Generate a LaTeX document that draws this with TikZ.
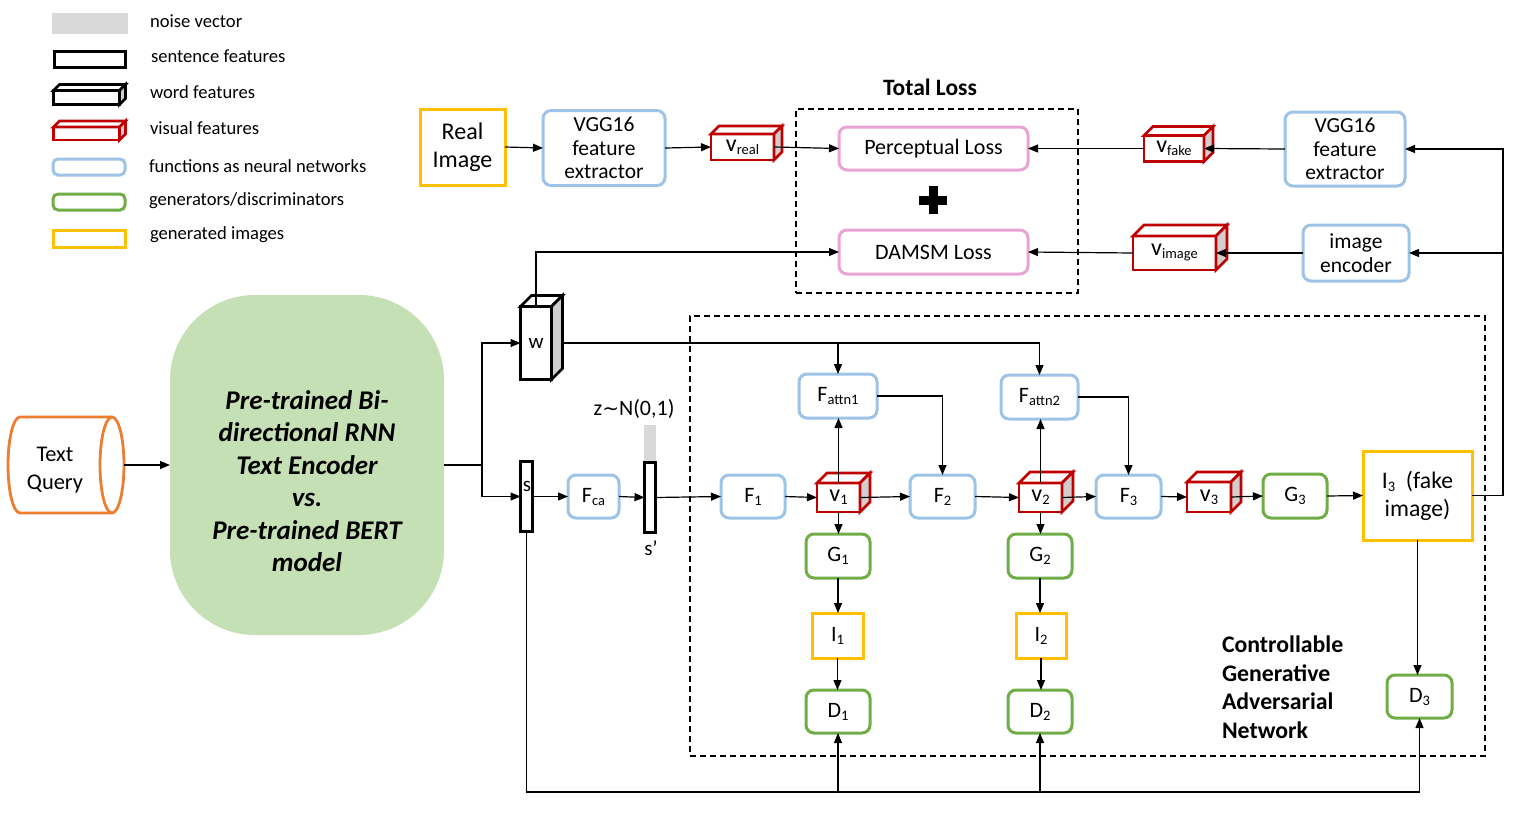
\documentclass[tikz,border=0pt]{standalone}
\usepackage{fontspec}
\setmainfont{Carlito}
\newfontfamily\dejavu{DejaVu Sans}
\usetikzlibrary{arrows.meta,calc}
\definecolor{cOrange}{HTML}{ED7D31}
\definecolor{cYellow}{HTML}{FFC000}
\definecolor{cBlue}{HTML}{9DC3E6}
\definecolor{cGreen}{HTML}{70AD47}
\definecolor{cRed}{HTML}{C00000}
\definecolor{cPink}{HTML}{E9A3D4}
\definecolor{cFill}{HTML}{C5E0B4}
\definecolor{cNoise}{HTML}{D9D9D9}
\definecolor{cSide}{HTML}{D0CECE}
\newcommand\sbs[1]{\raisebox{-3pt}{\fontsize{14.5}{16}\selectfont #1}}
\newcommand\cubeit[3]{%
  \draw[line width=2.6pt,#3,fill=white,line join=miter] (#1.north west) -- ++(#2,-#2) -- ([shift={(#2,-#2)}]#1.north east) -- (#1.north east) -- cycle;
  \draw[line width=2.6pt,#3,fill=cSide,line join=miter] (#1.north east) -- ([shift={(#2,-#2)}]#1.north east) -- ([shift={(#2,-#2)}]#1.south east) -- (#1.south east) -- cycle;
}
\tikzset{
  every node/.style={inner sep=0pt,outer sep=0pt},
  arr/.style={line width=1.2pt,-{Triangle[length=10pt,width=8pt]}},
  ln/.style={line width=1.2pt},
  fbox/.style={draw=cBlue,line width=3pt,rounded corners=8pt,fill=white,align=center},
  gbox/.style={draw=cGreen,line width=3pt,rounded corners=8pt,fill=white,align=center},
  pbox/.style={draw=cPink,line width=3pt,rounded corners=8pt,fill=white,align=center},
  ybox/.style={draw=cYellow,line width=3pt,fill=white,align=center},
  vfront/.style={draw=cRed,line width=2.8pt,fill=white},
  dashbox/.style={draw,line width=1.8pt,dash pattern=on 6pt off 4pt},
  lg/.style={anchor=west,font=\fontsize{18.6}{22}\selectfont},
  f22/.style={font=\fontsize{22}{26}\selectfont},
  vgg/.style={font=\fontsize{21.5}{23.5}\selectfont},
  vf/.style={font=\fontsize{24}{26}\selectfont},
}
\begin{document}
\begin{tikzpicture}[x=1pt,y=-1pt]
\useasboundingbox (0,0) rectangle (1528,822);

% ---------- legend
\node[fill=cNoise,minimum width=76,minimum height=21] (lg1) at (90,23.5) {};
\node[draw,line width=2.8pt,minimum width=71,minimum height=16] (lg2) at (90,59.5) {};
\node[draw,line width=2.6pt,minimum width=66,minimum height=14,fill=white] (lg3) at (86.5,97.5) {};
\cubeit{lg3}{6}{black}
\node[vfront,minimum width=66,minimum height=13] (lg4) at (86.5,133.5) {};
\cubeit{lg4}{6}{cRed}
\node[fbox,rounded corners=5pt,minimum width=72,minimum height=16] (lg5) at (89,167) {};
\node[gbox,rounded corners=5pt,minimum width=72,minimum height=16] (lg6) at (89,202) {};
\node[ybox,minimum width=72,minimum height=17] (lg7) at (89,238.5) {};
\node[lg] (lt1) at (150,21) {noise vector};
\node[lg] (lt2) at (151,56) {sentence features};
\node[lg] (lt3) at (150,92) {word features};
\node[lg] (lt4) at (150,128) {visual features};
\node[lg] (lt5) at (149,166) {functions as neural networks};
\node[lg] (lt6) at (149,201) {generators/discriminators};
\node[lg] (lt7) at (150,235) {generated images};

% ---------- dashed boxes
\node[dashbox,minimum width=282,minimum height=184] (lossbox) at (937,201) {};
\node[dashbox,minimum width=795,minimum height=440] (ganbox) at (1087.5,536) {};
\node[font=\bfseries\fontsize{23.5}{26}\selectfont] (tl) at (930,87) {Total Loss};
\node[font=\bfseries\fontsize{23.8}{28.5}\selectfont,align=left,anchor=west] (cg) at (1222,687) {Controllable\\Generative\\Adversarial\\Network};

% ---------- text query + encoder
\node[minimum width=116,minimum height=96] (tq) at (66,465) {};
\draw[cOrange,line width=2.8pt] (112,417) -- (20,417) arc[start angle=270,end angle=90,x radius=12,y radius=48] -- (112,513);
\draw[cOrange,line width=2.8pt] (112,465) ellipse [x radius=12,y radius=48];
\node[font=\fontsize{22.4}{28}\selectfont,align=center] (tqt) at (55,470) {Text\\Query};
\node[fill=cFill,rounded corners=85pt,minimum width=274,minimum height=340] (enc) at (307,465) {};
\node[align=center,font=\bfseries\itshape\fontsize{27}{32.5}\selectfont] (enctxt) at (307,481)
  {Pre-trained Bi-\\directional RNN\\Text Encoder\\vs.\\Pre-trained BERT\\model};

% ---------- top row
\node[ybox,font=\fontsize{24}{28}\selectfont,minimum width=85,minimum height=76] (real) at (462.5,147) {Real\\Image};
\node[fbox,vgg,minimum width=122,minimum height=75] (vgg1) at (604,148) {VGG16\\feature\\extractor};
\node[vfront,vf,minimum width=63,minimum height=26] (vreal) at (742.5,147) {v\sbs{real}};
\cubeit{vreal}{8}{cRed}
\node[pbox,f22,minimum width=189,minimum height=43] (perc) at (933.5,148.5) {Perceptual Loss};
\node[pbox,f22,minimum width=189,minimum height=44] (dam) at (933.5,252) {DAMSM Loss};
\node[minimum size=28] (plus) at (933,200) {};
\fill (plus.west) ++(0,-4.5) rectangle ++(28,9);
\fill (plus.north) ++(-4.5,0) rectangle ++(9,28);
\node[vfront,vf,minimum width=60,minimum height=26] (vfake) at (1174,148.5) {v\sbs{fake}};
\cubeit{vfake}{9}{cRed}
\node[vfront,vf,minimum width=83,minimum height=34] (vimage) at (1174.5,253) {v\sbs{image}};
\cubeit{vimage}{11}{cRed}
\node[fbox,vgg,minimum width=120,minimum height=74] (vgg2) at (1345,149) {VGG16\\feature\\extractor};
\node[fbox,vgg,minimum width=106,minimum height=56] (enc2) at (1356,253) {image\\encoder};

% ---------- w, s, s'
\node[draw,line width=2.4pt,fill=white,minimum width=31,minimum height=73,font=\fontsize{21}{24}\selectfont] (w) at (536,343) {w};
\cubeit{w}{11}{black}
\node[draw,line width=2.2pt,fill=white,minimum width=12,minimum height=70] (s) at (526.5,496.5) {};
\node[font=\fontsize{21}{24}\selectfont] (slab) at (527,486) {s};
\node[fbox,f22,minimum width=51,minimum height=43] (fca) at (593.5,496.5) {F\sbs{ca}};
\node[fill=cNoise,minimum width=12,minimum height=37] (nz) at (650,443) {};
\node[draw,line width=2.2pt,fill=white,minimum width=11,minimum height=70] (sp) at (650,497.5) {};
\node[font=\fontsize{22}{26}\selectfont] (zl) at (634,409) {z{\dejavu\fontsize{20}{24}\selectfont ∼}N(0,1)};
\node[font=\fontsize{21}{24}\selectfont] (spl) at (651,548) {s’};

% ---------- GAN
\node[fbox,f22,minimum width=64,minimum height=43] (f1) at (753,496.5) {F\sbs{1}};
\node[vfront,vf,minimum width=43,minimum height=29] (v1) at (838.5,497.5) {v\sbs{1}};
\cubeit{v1}{10}{cRed}
\node[fbox,f22,minimum width=78,minimum height=44] (fa1) at (838,396) {F\sbs{attn1}};
\node[fbox,f22,minimum width=65,minimum height=43] (f2) at (942.5,496.5) {F\sbs{2}};
\node[vfront,vf,minimum width=43,minimum height=29] (v2) at (1040.5,497.5) {v\sbs{2}};
\cubeit{v2}{11}{cRed}
\node[fbox,f22,minimum width=77,minimum height=44] (fa2) at (1039.5,397) {F\sbs{attn2}};
\node[fbox,f22,minimum width=65,minimum height=43] (f3) at (1128.5,496.5) {F\sbs{3}};
\node[vfront,vf,minimum width=44,minimum height=30] (v3) at (1209,497) {v\sbs{3}};
\cubeit{v3}{10}{cRed}
\node[gbox,f22,minimum width=64,minimum height=44] (g3) at (1295,496) {G\sbs{3}};
\node[ybox,font=\fontsize{23.7}{28}\selectfont,minimum width=109,minimum height=89] (i3) at (1417.5,495.5) {I\sbs{3}\ \ (fake\\image)};
\node[gbox,f22,minimum width=64,minimum height=44] (g1) at (838,556) {G\sbs{1}};
\node[ybox,f22,minimum width=51,minimum height=45] (i1) at (837.5,635.5) {I\sbs{1}};
\node[gbox,f22,minimum width=64,minimum height=43] (d1) at (838,711.5) {D\sbs{1}};
\node[gbox,f22,minimum width=64,minimum height=44] (g2) at (1040,556) {G\sbs{2}};
\node[ybox,f22,minimum width=50,minimum height=45] (i2) at (1041,635.5) {I\sbs{2}};
\node[gbox,f22,minimum width=64,minimum height=43] (d2) at (1040,711.5) {D\sbs{2}};
\node[gbox,f22,minimum width=65,minimum height=43] (d3) at (1419.5,696.5) {D\sbs{3}};

% ---------- connectors
\draw[arr] (tq.east) -- (enc.west);
\coordinate (split) at (482,465);
\draw[line width=2.4pt] (enc.east) -- (split);
\draw[arr] (split) |- (w.west);
\draw[arr] (split) |- (s.west);
\draw[arr] (w.north) |- (dam.west);
\draw[ln] ([xshift=11]w.east) -- (fa2.north |- w.east);
\draw[arr] (fa1.north |- w.east) -- (fa1.north);
\draw[arr] (fa2.north |- w.east) -- (fa2.north);

\draw[arr] (real.east) -- (vgg1.west);
\draw[arr] (vgg1.east) -- (vreal.west);
\draw[arr] (vreal.east) -- (perc.west);
\draw[arr] (vgg2.west) -- (vfake.east);
\draw[arr] (vfake.west) -- (perc.east);
\draw[arr] (enc2.west) -- (vimage.east);
\draw[arr] (vimage.west) -- (dam.east);
\coordinate (rx) at (1503,0);
\draw[arr] (i3.east) -| (rx |- vgg2.east) -- (vgg2.east);
\draw[arr] (rx |- enc2.east) -- (enc2.east);

\draw[arr] (s.east) -- (fca.west);
\draw[arr] (fca.east) -- (sp.west);
\draw[arr] (sp.east) -- (f1.west);
\draw[arr] (f1.east) -- (v1.west);
\draw[arr] (v1.east) -- (f2.west);
\draw[arr] (f2.east) -- (v2.west);
\draw[arr] (v2.east) -- (f3.west);
\draw[arr] (f3.east) -- (v3.west);
\draw[arr] (v3.east) -- (g3.west);
\draw[arr] (g3.east) -- (i3.west);
\draw[arr] (v1.north) -- (v1.north |- fa1.south);
\draw[arr] (fa1.east) -| (f2.north);
\draw[arr] (v2.north) -- (v2.north |- fa2.south);
\draw[arr] (fa2.east) -| (f3.north);
\draw[arr] (v1.south) -- (v1.south |- g1.north);
\draw[arr] (g1.south) -- (g1.south |- i1.north);
\draw[arr] (i1.south) -- (i1.south |- d1.north);
\draw[arr] (v2.south) -- (v2.south |- g2.north);
\draw[arr] (g2.south) -- (g2.south |- i2.north);
\draw[arr] (i2.south) -- (i2.south |- d2.north);
\draw[arr] (i3.south) -- (i3.south |- d3.north);
\coordinate (by) at (0,792);
\draw[arr] (s.south) |- (d3.south |- by) -- (d3.south);
\draw[arr] (d1.south |- by) -- (d1.south);
\draw[arr] (d2.south |- by) -- (d2.south);
\end{tikzpicture}
\end{document}
